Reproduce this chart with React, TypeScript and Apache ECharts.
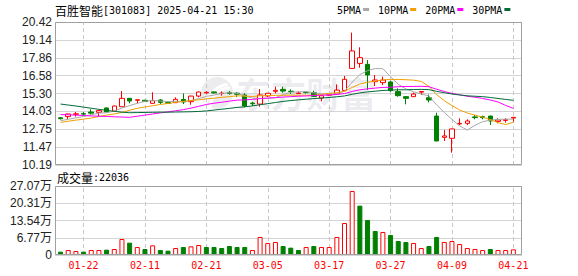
import React, { useEffect, useRef } from 'react';
import * as echarts from 'echarts';

const titleName = '百胜智能';
const titleRest = '[301083] 2025-04-21 15:30';
const volLabel = '成交量';
const lastVolume = 22036;

const dates = [
  '01-17', '01-20', '01-21', '01-22', '01-23', '01-24', '01-27',
  '02-05', '02-06', '02-07', '02-10', '02-11', '02-12', '02-13', '02-14', '02-17', '02-18', '02-19', '02-20', '02-21', '02-24', '02-25', '02-26', '02-27', '02-28',
  '03-03', '03-04', '03-05', '03-06', '03-07', '03-10', '03-11', '03-12', '03-13', '03-14', '03-17', '03-18', '03-19', '03-20', '03-21', '03-24', '03-25', '03-26', '03-27', '03-28', '03-31',
  '04-01', '04-02', '04-03', '04-07', '04-08', '04-09', '04-10', '04-11', '04-14', '04-15', '04-16', '04-17', '04-18', '04-21',
];
const labelDates = ['01-22', '02-11', '02-21', '03-05', '03-17', '03-27', '04-09', '04-21'];

// [open, close, low, high]
const candles = [
  [13.57, 13.50, 13.45, 13.62], [13.65, 13.84, 13.46, 13.86], [13.82, 13.85, 13.65, 13.98], [13.86, 13.83, 13.70, 13.98],
  [13.98, 13.90, 13.79, 14.17], [13.96, 14.08, 13.65, 14.10], [14.27, 13.98, 13.98, 14.30], [14.05, 14.41, 14.03, 14.43],
  [14.36, 14.96, 14.34, 15.48], [14.96, 14.77, 14.60, 14.98], [14.82, 14.86, 14.60, 14.88], [14.82, 14.73, 14.70, 14.85],
  [14.60, 14.79, 14.58, 15.39], [14.84, 14.67, 14.55, 14.90], [14.65, 14.60, 14.58, 14.67], [14.65, 14.89, 14.62, 15.03],
  [14.88, 14.70, 14.55, 15.31], [14.72, 15.12, 14.50, 15.15], [15.12, 15.41, 15.03, 15.45], [15.35, 15.39, 15.30, 15.45],
  [15.42, 15.35, 15.30, 15.45], [15.30, 15.33, 15.15, 15.45], [15.38, 15.30, 15.22, 15.48], [15.33, 15.25, 15.05, 15.40],
  [15.20, 14.41, 14.31, 15.32], [14.62, 14.57, 14.41, 14.72], [14.55, 15.20, 14.36, 15.62], [15.13, 15.32, 15.05, 15.35],
  [15.46, 15.53, 15.32, 15.79], [15.60, 15.48, 15.36, 15.79], [15.47, 15.45, 15.27, 15.60], [15.30, 15.34, 15.28, 15.45],
  [15.40, 15.37, 15.30, 15.42], [15.36, 15.10, 15.05, 15.50], [14.98, 15.15, 14.75, 15.17], [15.18, 15.24, 15.12, 15.30],
  [15.27, 15.55, 15.20, 15.96], [15.51, 16.32, 15.49, 16.56], [17.10, 18.35, 17.08, 19.66], [17.46, 17.87, 17.15, 18.61],
  [17.39, 16.63, 15.56, 17.70], [16.15, 16.27, 15.84, 16.63], [16.08, 16.27, 15.91, 16.51], [16.13, 15.51, 15.43, 16.22],
  [15.44, 15.15, 15.08, 15.67], [15.08, 14.96, 14.53, 15.10], [15.08, 15.27, 15.06, 15.37], [15.40, 15.45, 15.20, 15.48],
  [15.00, 14.84, 14.67, 15.24], [13.69, 11.91, 11.89, 13.93], [12.17, 12.27, 11.91, 12.69], [12.10, 12.77, 11.07, 12.79],
  [13.13, 13.17, 13.05, 13.53], [13.17, 13.34, 13.05, 13.46], [13.63, 13.58, 13.46, 13.77], [13.65, 13.58, 13.46, 13.72],
  [13.69, 13.34, 13.05, 13.72], [13.31, 13.41, 13.17, 13.53], [13.38, 13.43, 13.22, 13.53], [13.55, 13.60, 13.29, 13.62],
];

const volumes = [
  13100, 19600, 15700, 13100, 19600, 19600, 20900, 23500, 62800, 48400,
  31400, 23500, 37900, 19600, 17000, 27500, 31400, 34000, 39200, 31400,
  31400, 27500, 35300, 31400, 31400, 19600, 70600, 47100, 51000, 35300,
  28800, 19600, 31400, 35300, 31400, 31400, 70600, 125600, 251100, 193600,
  137300, 94200, 90300, 78500, 54900, 51000, 47100, 27500, 35300, 70600,
  51000, 54900, 43200, 27500, 23500, 19600, 23500, 19600, 19600, 22036,
];
const volRise = [
  0, 1, 1, 0, 1, 1, 0, 1, 1, 0,
  1, 0, 1, 0, 0, 1, 0, 1, 1, 0,
  0, 0, 0, 0, 0, 1, 1, 1, 1, 0,
  0, 0, 1, 0, 1, 1, 1, 1, 1, 0,
  0, 0, 1, 0, 0, 0, 1, 1, 0, 0,
  1, 1, 1, 1, 1, 1, 0, 1, 1, 1,
];

const ma5 = [
  13.36, 13.46, 13.56, 13.66, 13.78, 13.90, 13.93, 14.04, 14.27, 14.44,
  14.60, 14.75, 14.82, 14.76, 14.73, 14.74, 14.73, 14.80, 14.94, 15.10,
  15.19, 15.32, 15.36, 15.32, 15.13, 14.98, 14.95, 14.95, 15.01, 15.22,
  15.40, 15.42, 15.44, 15.35, 15.28, 15.24, 15.28, 15.47, 16.12, 16.66,
  16.94, 17.09, 17.08, 16.51, 15.97, 15.63, 15.43, 15.27, 15.13, 14.49,
  13.95, 13.45, 12.99, 12.69, 13.03, 13.29, 13.40, 13.45, 13.47, 13.47,
];
const ma10 = [
  13.24, 13.32, 13.40, 13.47, 13.55, 13.66, 13.76, 13.84, 13.95, 14.11,
  14.25, 14.34, 14.43, 14.52, 14.59, 14.67, 14.74, 14.81, 14.85, 14.92,
  14.97, 15.03, 15.08, 15.14, 15.12, 15.09, 15.14, 15.16, 15.17, 15.18,
  15.19, 15.18, 15.19, 15.17, 15.25, 15.31, 15.36, 15.46, 15.74, 15.98,
  16.11, 16.19, 16.28, 16.31, 16.31, 16.29, 16.26, 16.17, 15.82, 15.23,
  14.79, 14.44, 14.13, 13.91, 13.76, 13.62, 13.43, 13.22, 13.08, 13.25,
];
const ma20 = [
  13.80, 13.78, 13.76, 13.73, 13.70, 13.68, 13.66, 13.64, 13.62, 13.60,
  13.68, 13.76, 13.84, 13.92, 13.99, 14.07, 14.15, 14.26, 14.39, 14.52,
  14.61, 14.68, 14.76, 14.83, 14.85, 14.88, 14.94, 14.98, 15.01, 15.05,
  15.08, 15.11, 15.13, 15.16, 15.18, 15.20, 15.24, 15.30, 15.45, 15.57,
  15.64, 15.69, 15.74, 15.75, 15.79, 15.81, 15.81, 15.82, 15.79, 15.61,
  15.45, 15.31, 15.21, 15.11, 15.04, 14.95, 14.84, 14.70, 14.45, 14.24,
];
const ma30 = [
  14.55, 14.48, 14.41, 14.33, 14.25, 14.17, 14.10, 14.03, 13.97, 13.93,
  13.94, 13.95, 13.96, 13.97, 13.97, 13.98, 13.99, 14.00, 14.02, 14.06,
  14.12, 14.18, 14.24, 14.31, 14.35, 14.42, 14.50, 14.58, 14.66, 14.74,
  14.80, 14.85, 14.90, 14.94, 14.98, 15.02, 15.07, 15.13, 15.25, 15.35,
  15.42, 15.47, 15.52, 15.55, 15.57, 15.57, 15.59, 15.60, 15.58, 15.46,
  15.36, 15.27, 15.20, 15.14, 15.11, 15.08, 15.02, 14.95, 14.88, 14.82,
];

const maNames = ['5PMA', '10PMA', '20PMA', '30PMA'];
const maColors = ['#a8a8a8', '#f0a000', '#ff00ff', '#006b38'];
const maSeries = [ma5, ma10, ma20, ma30];

const mainTickLabels = ['10.19', '11.47', '12.75', '14.03', '15.30', '16.58', '17.86', '19.14', '20.42'];
const volTickLabels = ['0', '6.77万', '13.54万', '20.31万', '27.07万'];
const priceMin = 10.19;
const priceMax = 20.42;
const volMax = 270700;

const RED = '#ff0000';
const GREEN = '#008000';
const mono = '"DejaVu Sans Mono", monospace';
const cjk = '"Noto Sans CJK SC", sans-serif';
const axisFont = '"Liberation Sans", "Noto Sans CJK SC", sans-serif';

export default function App() {
  const ref = useRef<HTMLDivElement>(null);

  useEffect(() => {
    if (!ref.current) return;
    const chart = echarts.init(ref.current, null, { renderer: 'svg' });

    const frameLeft = 55;
    const frameW = 467;
    const dataLeft = 56.7;
    const dataW = 460.5;
    const mainTop = 22;
    const mainH = 143;
    const volTop = 186;
    const volH = 69;

    const vLine = (z: number) => ({
      silent: true,
      symbol: ['none', 'none'],
      label: { show: false },
      lineStyle: { type: [4, 3], color: '#c8c8c8', width: 1 },
      data: labelDates.map((d) => ({ xAxis: d })),
      z,
    });

    // legend layout
    const legendEls: any[] = [];
    let lx = 337;
    maNames.forEach((n, k) => {
      const w = n.length * 6.02;
      legendEls.push({
        type: 'text', x: lx, y: 10, z: 10,
        style: { text: n, font: `10px ${mono}`, fill: '#000', verticalAlign: 'middle' },
      });
      legendEls.push({
        type: 'rect', z: 10,
        shape: { x: lx + w + 2, y: 8, width: 6, height: 3 },
        style: { fill: maColors[k] },
      });
      lx += w + 2 + 6 + 9;
    });

    const wm = 'rgba(110,110,135,0.13)';

    const option: any = {
      animation: false,
      backgroundColor: '#ffffff',
      grid: [
        { left: frameLeft, top: mainTop, width: frameW, height: mainH },
        { left: dataLeft, top: mainTop, width: dataW, height: mainH },
        { left: frameLeft, top: volTop, width: frameW, height: volH },
        { left: dataLeft, top: volTop, width: dataW, height: volH },
      ],
      xAxis: [
        { gridIndex: 0, type: 'value', min: 0, max: 1, show: false },
        { gridIndex: 1, type: 'category', data: dates, boundaryGap: true, show: false },
        { gridIndex: 2, type: 'value', min: 0, max: 1, show: false },
        {
          gridIndex: 3, type: 'category', data: dates, boundaryGap: true,
          axisLine: { show: false }, axisTick: { show: false }, splitLine: { show: false },
          axisLabel: {
            interval: (_i: number, v: string) => labelDates.includes(v),
            color: RED, fontFamily: mono, fontSize: 10, margin: 5,
          },
        },
      ],
      yAxis: [
        {
          gridIndex: 0, type: 'value', min: 0, max: 8, interval: 1,
          axisLine: { show: false }, axisTick: { show: false },
          splitLine: { show: true, lineStyle: { color: '#d4d4d4', width: 1 } },
          axisLabel: { formatter: (v: number) => mainTickLabels[v] ?? '', color: '#222', fontFamily: axisFont, fontSize: 12, margin: 3 },
        },
        { gridIndex: 1, type: 'value', min: priceMin, max: priceMax, show: false },
        {
          gridIndex: 2, type: 'value', min: 0, max: 4, interval: 1,
          axisLine: { show: false }, axisTick: { show: false },
          splitLine: { show: true, lineStyle: { color: '#d4d4d4', width: 1 } },
          axisLabel: { formatter: (v: number) => volTickLabels[v] ?? '', color: '#222', fontFamily: axisFont, fontSize: 12, margin: 3 },
        },
        { gridIndex: 3, type: 'value', min: 0, max: volMax, show: false },
      ],
      graphic: [
        // watermark
        {
          type: 'text', x: 236, y: 75, z: 0, silent: true,
          style: { text: '东方财富', font: `bold 35px ${cjk}`, fill: wm },
        },
        { type: 'circle', z: 0, silent: true, shape: { cx: 217, cy: 93, r: 16 }, style: { fill: wm } },
        { type: 'arc', z: 0, silent: true, shape: { cx: 230, cy: 108, r: 20, startAngle: Math.PI * 1.0, endAngle: Math.PI * 1.5 }, style: { stroke: '#fff', lineWidth: 3, fill: 'none' } },
        { type: 'arc', z: 0, silent: true, shape: { cx: 232, cy: 112, r: 28, startAngle: Math.PI * 1.05, endAngle: Math.PI * 1.45 }, style: { stroke: '#fff', lineWidth: 3, fill: 'none' } },
        // frames
        { type: 'rect', z: 20, silent: true, shape: { x: frameLeft + 0.5, y: mainTop + 0.5, width: frameW - 1, height: mainH - 1 }, style: { fill: 'none', stroke: '#a0a0a0', lineWidth: 1 } },
        { type: 'rect', z: 20, silent: true, shape: { x: frameLeft + 0.5, y: volTop + 0.5, width: frameW - 1, height: volH - 1 }, style: { fill: 'none', stroke: '#a0a0a0', lineWidth: 1 } },
        // title
        {
          type: 'text', x: 55, y: 10, z: 10,
          style: {
            text: `{a|${titleName}}{b|${titleRest}}`,
            verticalAlign: 'middle',
            rich: {
              a: { fontFamily: cjk, fontSize: 12, fill: '#000' },
              b: { fontFamily: mono, fontSize: 10, fill: '#000' },
            },
          },
        },
        // volume label
        {
          type: 'text', x: 57, y: 177, z: 10,
          style: {
            text: `{a|${volLabel}}{b|:${lastVolume}}`,
            verticalAlign: 'middle',
            rich: {
              a: { fontFamily: cjk, fontSize: 12, fill: '#000' },
              b: { fontFamily: mono, fontSize: 10, fill: '#000' },
            },
          },
        },
        ...legendEls,
      ],
      series: [
        {
          type: 'candlestick', xAxisIndex: 1, yAxisIndex: 1, data: candles,
          barWidth: 5, z: 2,
          itemStyle: { color: '#ffffff', color0: GREEN, borderColor: RED, borderColor0: GREEN, borderWidth: 1 },
          markLine: vLine(1),
        },
        ...maSeries.map((d, k) => ({
          type: 'line', xAxisIndex: 1, yAxisIndex: 1, data: d, symbol: 'none', silent: true, z: 3,
          lineStyle: { color: maColors[k], width: 1 },
        })),
        {
          type: 'bar', xAxisIndex: 3, yAxisIndex: 3, barWidth: 5, z: 2,
          data: volumes.map((v, i) => ({
            value: v,
            itemStyle: volRise[i]
              ? { color: '#ffffff', borderColor: RED, borderWidth: 1 }
              : { color: GREEN, borderColor: GREEN, borderWidth: 1 },
          })),
          markLine: vLine(1),
        },
      ],
    };

    chart.setOption(option);
    return () => chart.dispose();
  }, []);

  return (
    <div
      ref={ref}
      style={{ position: 'fixed', left: 0, top: 0, width: 578, height: 276, background: '#fff' }}
    />
  );
}
